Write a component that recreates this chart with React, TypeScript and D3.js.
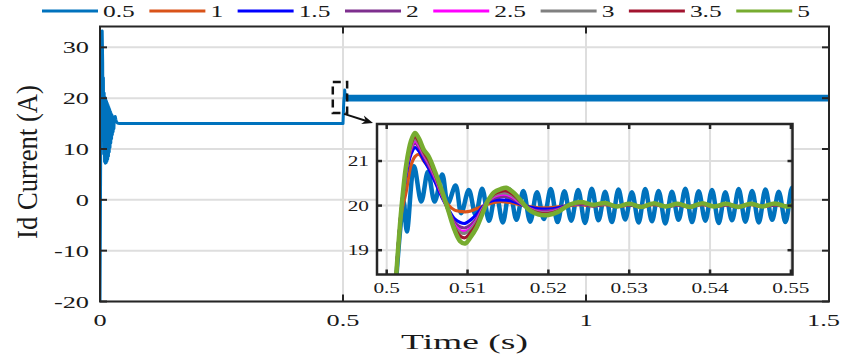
import React from 'react';
import * as d3 from 'd3';

// ---------- data ----------
const seriesLabels = ['0.5', '1', '1.5', '2', '2.5', '3', '3.5', '5'];
const seriesColors = ['#0072BD', '#D95319', '#0000FF', '#7E2F8E', '#FF00FF', '#808080', '#A2142F', '#77AC30'];

const mainYTicks = [-20, -10, 0, 10, 20, 30];
const mainXTicks = [0, 0.5, 1, 1.5];
const mainXTickLabels = ['0', '0.5', '1', '1.5'];
const insetXTicks = [0.5, 0.51, 0.52, 0.53, 0.54, 0.55];
const insetXTickLabels = ['0.5', '0.51', '0.52', '0.53', '0.54', '0.55'];
const insetYTicks = [19, 20, 21];

// main plot: series 0.5 (time, value)
const mainT = [0.0, 0.0008, 0.0018, 0.003, 0.0045, 0.0055, 0.0062, 0.007, 0.0078, 0.0086, 0.0094, 0.0102, 0.011, 0.0118, 0.0126, 0.0134, 0.0142, 0.015, 0.0158, 0.0166, 0.0174, 0.0182, 0.019, 0.0198, 0.0206, 0.0214, 0.0222, 0.023, 0.0238, 0.0246, 0.0254, 0.0262, 0.027, 0.0278, 0.0286, 0.0294, 0.0302, 0.0314, 0.0326, 0.034, 0.036, 0.04, 0.4998, 0.5, 0.5012, 0.5021, 0.5025, 0.5035, 0.5045, 0.5052, 0.506, 0.5069, 0.5077, 0.5085, 0.5095];
const mainV = [-21, -5, 20, 32.5, 33.2, 27, 14, 24, 9, 21, 7.5, 20.2, 7.2, 19.8, 7.3, 19.4, 7.6, 19.0, 8.0, 18.6, 8.6, 18.2, 9.4, 17.8, 10.3, 17.4, 11.2, 17.0, 12.0, 16.7, 12.8, 16.4, 13.4, 16.2, 14.0, 16.0, 15.6, 16.4, 15.8, 15.3, 15.1, 15.0, 15.0, 15.0, 18.4, 20.1, 19.4, 21.6, 20.2, 20.8, 20.1, 20.7, 20.05, 20.45, 19.8];
// steady-state ripple envelope of series 0.5 in the main plot
const rippleT = [0.5095, 1.5];
const rippleLow = [19.62, 19.62];
const rippleHigh = [20.36, 20.36];

// inset: series 0.5 (time, value)
const inset05T = [0.4995, 0.5, 0.5006, 0.5012, 0.5018, 0.5021, 0.5025, 0.50338, 0.50428, 0.5051, 0.50593, 0.50687, 0.50757, 0.50852, 0.50922, 0.51016, 0.51099, 0.51181, 0.51266, 0.51351, 0.51436, 0.5152, 0.51605, 0.5169, 0.51775, 0.51859, 0.51944, 0.52029, 0.52114, 0.52198, 0.52283, 0.52368, 0.52453, 0.52537, 0.5262, 0.52702, 0.52785, 0.52867, 0.5295, 0.53033, 0.53116, 0.53198, 0.53281, 0.53363, 0.53446, 0.53528, 0.53611, 0.53694, 0.53777, 0.53859, 0.53942, 0.54024, 0.54107, 0.54189, 0.54272, 0.54354, 0.54437, 0.5452, 0.54603, 0.54685, 0.54768, 0.5485, 0.54933, 0.55015, 0.5506];
const inset05V = [15.0, 15.0, 16.6, 18.4, 19.7, 20.1, 19.42, 20.88, 20.09, 20.76, 20.09, 20.7, 20.05, 20.45, 19.83, 20.35, 19.79, 20.38, 19.66, 20.3, 19.62, 20.36, 19.68, 20.33, 19.64, 20.3, 19.7, 20.37, 19.63, 20.32, 19.66, 20.35, 19.61, 20.38, 19.67, 20.31, 19.63, 20.36, 19.69, 20.3, 19.62, 20.37, 19.65, 20.33, 19.6, 20.31, 19.68, 20.38, 19.63, 20.32, 19.66, 20.35, 19.61, 20.3, 19.67, 20.37, 19.64, 20.33, 19.62, 20.36, 19.68, 20.31, 19.63, 20.4, 20.2];

// inset: common time grid for the other series
const dampT = [0.4995, 0.5, 0.5006, 0.5012, 0.5018, 0.5024, 0.503, 0.5035, 0.504, 0.5046, 0.5052, 0.506, 0.5068, 0.5076, 0.5084, 0.5091, 0.5097, 0.5104, 0.5111, 0.5118, 0.5125, 0.5133, 0.5141, 0.5148, 0.5155, 0.5162, 0.517, 0.5178, 0.5188, 0.52, 0.5212, 0.5226, 0.524, 0.5255, 0.527, 0.5285, 0.53, 0.5315, 0.533, 0.5345, 0.536, 0.5375, 0.539, 0.5405, 0.542, 0.5435, 0.545, 0.5465, 0.548, 0.5495, 0.5502];
const damp1 = [15.0, 15.0, 16.8, 18.5, 19.8, 20.3, 20.9, 21.1, 21.15, 21.0, 20.85, 20.55, 20.25, 20.02, 19.9, 19.87, 19.86, 19.88, 19.93, 19.98, 20.03, 20.07, 20.09, 20.08, 20.06, 20.03, 20.0, 19.97, 19.95, 19.95, 19.97, 20.0, 20.02, 19.99, 20.02, 19.98, 20.01, 19.97, 20.02, 19.98, 20.01, 19.97, 20.02, 19.98, 20.01, 19.97, 20.02, 19.98, 20.01, 19.98, 19.99];
const damp15 = [15.0, 15.0, 16.8, 18.5, 19.9, 20.7, 21.15, 21.3, 21.22, 21.02, 20.83, 20.52, 20.2, 19.93, 19.7, 19.62, 19.6, 19.68, 19.8, 19.96, 20.07, 20.12, 20.13, 20.12, 20.1, 20.06, 20.0, 19.96, 19.93, 19.92, 19.95, 20.01, 20.04, 20.0, 20.03, 19.98, 20.02, 19.97, 20.03, 19.98, 20.02, 19.97, 20.03, 19.98, 20.02, 19.97, 20.03, 19.98, 20.02, 19.98, 20.0];
const damp2 = [15.0, 15.0, 16.8, 18.5, 19.9, 20.75, 21.25, 21.4, 21.3, 21.1, 20.9, 20.6, 20.24, 19.91, 19.62, 19.52, 19.5, 19.57, 19.7, 19.92, 20.09, 20.17, 20.2, 20.2, 20.16, 20.09, 20.0, 19.93, 19.88, 19.88, 19.92, 20.01, 20.04, 20.01, 20.03, 19.98, 20.03, 19.98, 20.03, 19.98, 20.03, 19.98, 20.03, 19.98, 20.03, 19.98, 20.03, 19.98, 20.03, 19.98, 20.0];
const damp25 = [15.0, 15.0, 16.8, 18.5, 19.9, 20.8, 21.3, 21.45, 21.35, 21.14, 20.95, 20.64, 20.26, 19.9, 19.56, 19.44, 19.42, 19.5, 19.66, 19.9, 20.1, 20.21, 20.25, 20.25, 20.2, 20.11, 20.0, 19.92, 19.86, 19.85, 19.9, 20.01, 20.05, 20.01, 20.04, 19.98, 20.03, 19.98, 20.03, 19.98, 20.03, 19.98, 20.03, 19.98, 20.03, 19.98, 20.03, 19.98, 20.03, 19.98, 20.0];
const damp3 = [15.0, 15.0, 16.8, 18.5, 19.9, 20.82, 21.33, 21.5, 21.39, 21.17, 20.98, 20.67, 20.28, 19.9, 19.53, 19.4, 19.38, 19.47, 19.63, 19.88, 20.1, 20.23, 20.28, 20.28, 20.23, 20.13, 20.0, 19.91, 19.85, 19.84, 19.89, 20.01, 20.05, 20.01, 20.04, 19.98, 20.03, 19.98, 20.03, 19.98, 20.03, 19.98, 20.03, 19.98, 20.03, 19.98, 20.03, 19.98, 20.03, 19.98, 20.0];
const damp35 = [15.0, 15.0, 16.8, 18.5, 19.9, 20.85, 21.38, 21.55, 21.43, 21.2, 21.02, 20.7, 20.3, 19.9, 19.5, 19.32, 19.28, 19.4, 19.58, 19.85, 20.1, 20.26, 20.32, 20.33, 20.27, 20.16, 20.01, 19.9, 19.83, 19.82, 19.88, 20.01, 20.06, 20.01, 20.05, 19.98, 20.03, 19.97, 20.04, 19.98, 20.03, 19.97, 20.04, 19.98, 20.03, 19.97, 20.03, 19.98, 20.04, 19.98, 20.0];
const damp5 = [15.0, 15.0, 16.8, 18.5, 19.9, 20.9, 21.45, 21.63, 21.5, 21.25, 21.1, 20.75, 20.35, 19.9, 19.45, 19.2, 19.15, 19.3, 19.5, 19.8, 20.1, 20.3, 20.37, 20.4, 20.32, 20.2, 20.02, 19.88, 19.8, 19.79, 19.86, 20.02, 20.08, 20.02, 20.06, 19.98, 20.04, 19.97, 20.05, 19.98, 20.04, 19.97, 20.05, 19.98, 20.04, 19.97, 20.04, 19.98, 20.05, 19.98, 20.01];

// zoom region marked on the main plot
const zoomBoxT = [0.479, 0.5085];
const zoomBoxV = [17.1, 23.2];

// ---------- layout ----------
const W = 842;
const H = 355;
const M = { left: 100, right: 829, top: 26.5, bottom: 301.5 };
const IN = { left: 377, right: 792.5, top: 124, bottom: 274.5 };
const FONT = "'Liberation Serif', 'Times New Roman', serif";
const AX = '#262626';
const GRID = '#dedede';

const xMain = d3.scaleLinear().domain([0, 1.5]).range([M.left, M.right]);
const yMain = d3.scaleLinear().domain([-20, 34.1]).range([M.bottom, M.top]);
const xIn = d3.scaleLinear().domain([0.4988, 0.5502]).range([IN.left, IN.right]);
const yIn = d3.scaleLinear().domain([18.455, 21.83]).range([IN.bottom, IN.top]);

function SText(props: { x: number; y: number; size: number; sx: number; anchor?: string; children: React.ReactNode }) {
  const { x, y, size, sx, anchor = 'middle', children } = props;
  return (
    <text transform={`translate(${x},${y}) scale(${sx},1)`} fontSize={size} fontFamily={FONT} textAnchor={anchor} fill="#1a1a1a">
      {children}
    </text>
  );
}

const tickEm = 17 * 1.55;
const labelW = (s: string, em: number) => s.split('').reduce((a, c) => a + (c === '.' ? 0.25 : 0.5), 0) * em;

export default function App() {
  const mainLine = d3.line<number>().x((_, i) => xMain(mainT[i])).y((v) => yMain(v))(mainV) || '';
  const ripple = d3
    .area<number>()
    .x((t) => xMain(t))
    .y0((_, i) => yMain(rippleLow[i]))
    .y1((_, i) => yMain(rippleHigh[i]))(rippleT) || '';

  const insetLine = (ts: number[], vs: number[]) =>
    d3.line<number>().curve(d3.curveCatmullRom.alpha(0.5)).x((_, i) => xIn(ts[i])).y((v) => yIn(v))(vs) || '';

  const dampSeries = [damp1, damp15, damp2, damp25, damp3, damp35, damp5];

  // legend layout
  const legendEm = 17 * 1.5;
  let lx = 42;
  const legendItems = seriesLabels.map((lab, i) => {
    const item = { x: lx, lab, color: seriesColors[i] };
    lx += 61 + labelW(lab, legendEm) + 14.5;
    return item;
  });

  const bx0 = xMain(zoomBoxT[0]);
  const bx1 = xMain(zoomBoxT[1]);
  const by0 = yMain(zoomBoxV[1]);
  const by1 = yMain(zoomBoxV[0]);
  const ax0 = bx1 - 3;
  const ay0 = by1 + 1;
  const ax1 = IN.left - 4;
  const ay1 = IN.top - 1;
  const ang = Math.atan2(ay1 - ay0, ax1 - ax0);
  const hl = 11;
  const hw = 4.5;
  const head = [
    [ax1, ay1],
    [ax1 - hl * Math.cos(ang) + hw * Math.sin(ang), ay1 - hl * Math.sin(ang) - hw * Math.cos(ang)],
    [ax1 - hl * 0.7 * Math.cos(ang), ay1 - hl * 0.7 * Math.sin(ang)],
    [ax1 - hl * Math.cos(ang) - hw * Math.sin(ang), ay1 - hl * Math.sin(ang) + hw * Math.cos(ang)],
  ]
    .map((p) => p.join(','))
    .join(' ');

  return (
    <svg width={W} height={H} style={{ position: 'absolute', left: 0, top: 0, background: '#fff' }}>
      <defs>
        <clipPath id="clipMain">
          <rect x={M.left} y={M.top} width={M.right - M.left} height={M.bottom - M.top} />
        </clipPath>
        <clipPath id="clipInset">
          <rect x={IN.left} y={IN.top} width={IN.right - IN.left} height={IN.bottom - IN.top} />
        </clipPath>
      </defs>
      <rect x={0} y={0} width={W} height={H} fill="#fff" />

      {/* legend */}
      {legendItems.map((it) => (
        <g key={it.lab}>
          <line x1={it.x} x2={it.x + 56} y1={11} y2={11} stroke={it.color} strokeWidth={3} />
          <SText x={it.x + 61} y={17} size={17} sx={1.5} anchor="start">
            {it.lab}
          </SText>
        </g>
      ))}

      {/* main grid */}
      {mainYTicks.map((v) => (
        <line key={'gy' + v} x1={M.left} x2={M.right} y1={yMain(v)} y2={yMain(v)} stroke={GRID} strokeWidth={2} />
      ))}
      {mainXTicks.map((t) => (
        <line key={'gx' + t} x1={xMain(t)} x2={xMain(t)} y1={M.top} y2={M.bottom} stroke={GRID} strokeWidth={2} />
      ))}

      {/* main data */}
      <g clipPath="url(#clipMain)">
        <path d={ripple} fill={seriesColors[0]} stroke={seriesColors[0]} strokeWidth={3} strokeLinejoin="round" />
        <path d={mainLine} fill="none" stroke={seriesColors[0]} strokeWidth={3} strokeLinejoin="round" />
      </g>

      {/* main ticks */}
      {mainYTicks.map((v) => (
        <g key={'ty' + v}>
          <line x1={M.left} x2={M.left + 7} y1={yMain(v)} y2={yMain(v)} stroke={AX} strokeWidth={2} />
          <line x1={M.right} x2={M.right - 7} y1={yMain(v)} y2={yMain(v)} stroke={AX} strokeWidth={2} />
          <SText x={89} y={yMain(v) + 6} size={17} sx={1.55} anchor="end">
            {String(v)}
          </SText>
        </g>
      ))}
      {mainXTicks.map((t, i) => {
        const w = labelW(mainXTickLabels[i], tickEm);
        const cx = Math.min(xMain(t), W - 2 - w / 2);
        return (
          <g key={'tx' + t}>
            <line x1={xMain(t)} x2={xMain(t)} y1={M.bottom} y2={M.bottom - 7} stroke={AX} strokeWidth={2} />
            <line x1={xMain(t)} x2={xMain(t)} y1={M.top} y2={M.top + 7} stroke={AX} strokeWidth={2} />
            <SText x={cx} y={326} size={17} sx={1.55}>
              {mainXTickLabels[i]}
            </SText>
          </g>
        );
      })}
      <rect x={M.left} y={M.top} width={M.right - M.left} height={M.bottom - M.top} fill="none" stroke={AX} strokeWidth={2} />

      {/* axis labels */}
      <text x={(M.left + M.right) / 2} y={349} fontSize={22} fontFamily={FONT} textAnchor="middle" textLength={127} lengthAdjust="spacingAndGlyphs" fill="#1a1a1a">
        Time (s)
      </text>
      <text
        transform={`translate(37,${(M.top + M.bottom) / 2 - 2}) scale(1.3,1) rotate(-90)`}
        fontSize={23}
        fontFamily={FONT}
        textAnchor="middle"
        textLength={154}
        lengthAdjust="spacingAndGlyphs"
        fill="#1a1a1a"
      >
        Id Current (A)
      </text>

      {/* zoom box and arrow */}
      <rect x={bx0} y={by0} width={bx1 - bx0} height={by1 - by0} fill="none" stroke="#111" strokeWidth={2.5} strokeDasharray="8,5" />
      <line x1={ax0} y1={ay0} x2={ax1 - 6 * Math.cos(ang)} y2={ay1 - 6 * Math.sin(ang)} stroke="#111" strokeWidth={2} />
      <polygon points={head} fill="#111" />

      {/* inset */}
      <rect x={IN.left} y={IN.top} width={IN.right - IN.left} height={IN.bottom - IN.top} fill="#fff" />
      {insetYTicks.map((v) => (
        <line key={'igy' + v} x1={IN.left} x2={IN.right} y1={yIn(v)} y2={yIn(v)} stroke={GRID} strokeWidth={2} />
      ))}
      {insetXTicks.map((t) => (
        <line key={'igx' + t} x1={xIn(t)} x2={xIn(t)} y1={IN.top} y2={IN.bottom} stroke={GRID} strokeWidth={2} />
      ))}
      <g clipPath="url(#clipInset)">
        <path d={insetLine(inset05T, inset05V)} fill="none" stroke={seriesColors[0]} strokeWidth={4.5} strokeLinejoin="round" />
        {dampSeries.map((vs, i) => (
          <path
            key={'ds' + i}
            d={insetLine(dampT, vs)}
            fill="none"
            stroke={seriesColors[i + 1]}
            strokeWidth={i === 6 ? 4.5 : 3.2}
            strokeLinejoin="round"
          />
        ))}
      </g>
      {insetXTicks.map((t, i) => (
        <g key={'itx' + t}>
          <line x1={xIn(t)} x2={xIn(t)} y1={IN.bottom} y2={IN.bottom - 5} stroke={AX} strokeWidth={2.5} />
          <line x1={xIn(t)} x2={xIn(t)} y1={IN.top} y2={IN.top + 5} stroke={AX} strokeWidth={2.5} />
          <SText x={xIn(t)} y={293} size={15} sx={1.42}>
            {insetXTickLabels[i]}
          </SText>
        </g>
      ))}
      {insetYTicks.map((v) => (
        <g key={'ity' + v}>
          <line x1={IN.left} x2={IN.left + 5} y1={yIn(v)} y2={yIn(v)} stroke={AX} strokeWidth={2.5} />
          <line x1={IN.right} x2={IN.right - 5} y1={yIn(v)} y2={yIn(v)} stroke={AX} strokeWidth={2.5} />
          <SText x={369} y={yIn(v) + 5} size={15} sx={1.42} anchor="end">
            {String(v)}
          </SText>
        </g>
      ))}
      <rect x={IN.left} y={IN.top} width={IN.right - IN.left} height={IN.bottom - IN.top} fill="none" stroke={AX} strokeWidth={2.5} />
    </svg>
  );
}
